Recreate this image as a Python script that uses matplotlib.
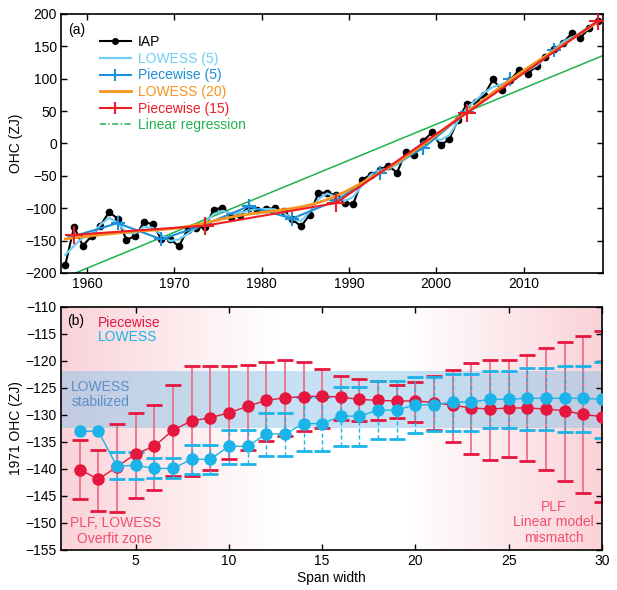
import numpy as np
import matplotlib
matplotlib.use("Agg")
import matplotlib.pyplot as plt
from matplotlib.lines import Line2D

plt.rcParams["font.family"] = ["Liberation Sans", "DejaVu Sans"]
plt.rcParams["font.size"] = 10

# ---- panel (a): IAP ocean heat content, ZJ ----
years = np.arange(1957, 2019)
iap = [-187, -129, -158, -143, -127, -106, -116, -149, -143, -122,
       -124, -148, -147, -159, -133, -130, -129, -102, -99, -113,
       -110, -99, -103, -101, -100, -105, -117, -128, -110, -76,
       -76, -80, -92, -93, -56, -48, -41, -34, -45, -13,
       -17, 4, 17, -3, 7, 37, 61, 64, 75, 99,
       82, 98, 114, 108, 120, 133, 146, 155, 170, 163,
       178, 189]

pw5_years = [1958, 1963, 1968, 1973, 1978, 1983, 1988, 1993, 1998, 2003, 2008, 2013, 2018]
pw5_vals = [-143, -123, -148, -125, -97, -116, -88, -46, -7, 49, 99, 144, 189]
pw15_years = [1958, 1973, 1988, 2003, 2018]
pw15_vals = [-141, -127, -92, 47, 189]

# ---- panel (b): 1971 OHC vs span width ----
spans = np.arange(2, 31)
pw_mid = [-140.1, -141.9, -139.6, -137.2, -135.8, -132.8, -131.1, -130.5, -129.6, -128.4,
          -127.3, -126.8, -126.6, -126.5, -126.7, -127.1, -127.3, -127.4, -127.4, -127.7,
          -128.2, -128.7, -128.9, -128.7, -128.7, -128.9, -129.2, -129.9, -130.3]
pw_hi = [-134.7, -136.4, -131.6, -129.6, -128.1, -124.4, -121.0, -121.0, -121.0, -120.7,
         -120.2, -119.9, -120.2, -121.4, -122.8, -123.4, -123.7, -124.5, -123.9, -122.8,
         -121.6, -120.4, -119.8, -119.8, -118.9, -117.6, -116.5, -115.3, -114.5]
pw_lo = [-145.6, -147.8, -148.0, -145.3, -143.8, -141.3, -141.3, -140.2, -138.2, -136.4,
         -134.8, -133.9, -133.0, -132.5, -131.0, -131.1, -131.0, -130.5, -131.3, -132.8,
         -135.0, -137.3, -138.4, -137.8, -138.5, -140.2, -142.2, -144.4, -146.2]

lw_mid = [-133.0, -133.0, -139.5, -139.3, -139.9, -139.9, -138.2, -138.2, -135.8, -135.8,
          -133.5, -133.5, -131.6, -131.6, -130.2, -130.2, -129.1, -129.1, -128.1, -128.1,
          -127.6, -127.6, -127.1, -127.1, -126.9, -126.9, -126.9, -126.9, -127.1]
lw_hi = [np.nan, np.nan, -136.9, -136.9, -138.0, -138.0, -135.5, -135.5, -132.7, -132.7,
         -129.6, -129.6, -126.7, -126.7, -124.9, -124.9, -123.7, -123.7, -123.0, -123.0,
         -122.5, -122.5, -121.9, -121.9, -121.3, -121.3, -120.9, -120.9, -120.2]
lw_lo = [np.nan, np.nan, -141.9, -141.9, -141.7, -141.6, -141.0, -141.0, -139.0, -139.0,
         -137.6, -137.6, -136.7, -136.7, -135.8, -135.8, -134.5, -134.5, -133.4, -133.0,
         -132.9, -132.9, -132.4, -132.4, -132.7, -132.7, -133.2, -133.2, -134.2]

band = (-132.4, -121.8)  # "LOWESS stabilized" range


def lowess(x, y, span):
    """Plain local-linear LOWESS with tricube weights over `span` neighbours."""
    x = np.asarray(x, float)
    y = np.asarray(y, float)
    out = np.empty_like(y)
    for i, xi in enumerate(x):
        d = np.abs(x - xi)
        idx = np.argsort(d)[:span]
        dmax = d[idx].max() * 1.0001
        w = (1 - (d[idx] / dmax) ** 3) ** 3
        A = np.vstack([np.ones(len(idx)), x[idx] - xi]).T
        W = np.diag(w)
        beta = np.linalg.lstsq(A.T @ W @ A, A.T @ W @ y[idx], rcond=None)[0]
        out[i] = beta[0]
    return out


C_IAP = "black"
C_LW5 = "#6fd0f6"
C_PW5 = "#1b8fd8"
C_LW20 = "#f7941d"
C_PW15 = "#ee1c25"
C_LIN = "#20b24b"

fig = plt.figure(figsize=(6.17, 5.90), dpi=100)
ax1 = fig.add_axes([61 / 617, 1 - 273 / 590, 542 / 617, 259 / 590])
ax2 = fig.add_axes([61 / 617, 1 - 550 / 590, 541 / 617, 243 / 590])

xt = years + 0.5
ax1.plot(xt, iap, color=C_IAP, lw=1.5, marker="o", ms=4.5, zorder=3)
ax1.plot(xt, lowess(xt, iap, 5), color=C_LW5, lw=1.6, zorder=4)
ax1.plot(np.array(pw5_years) + 0.5, pw5_vals, color=C_PW5, lw=1.5, marker="+",
         ms=10, mew=1.5, zorder=5)
ax1.plot(xt, lowess(xt, iap, 20), color=C_LW20, lw=2, zorder=6)
ax1.plot(np.array(pw15_years) + 0.5, pw15_vals, color=C_PW15, lw=1.5, marker="+",
         ms=13, mew=1.5, zorder=7)
p = np.polyfit(xt, iap, 1)
xl = np.array([1957, 2019.1])
ax1.plot(xl, np.polyval(p, xl), color=C_LIN, lw=1.1, zorder=2)

ax1.set_xlim(1957, 2019.1)
ax1.set_ylim(-200, 200)
ax1.set_xticks([1960, 1970, 1980, 1990, 2000, 2010])
ax1.set_yticks(np.arange(-200, 201, 50))
ax1.set_ylabel("OHC (ZJ)", labelpad=2)
ax1.text(0.013, 0.965, "(a)", transform=ax1.transAxes, va="top", ha="left")

handles = [
    Line2D([0], [0], color=C_IAP, lw=1.5, marker="o", ms=4),
    Line2D([0], [0], color=C_LW5, lw=1.6),
    Line2D([0], [0], color=C_PW5, lw=1.5, marker="+", ms=9, mew=1.5),
    Line2D([0], [0], color=C_LW20, lw=2),
    Line2D([0], [0], color=C_PW15, lw=1.5, marker="+", ms=9, mew=1.5),
    Line2D([0], [0], color=C_LIN, lw=1.1, ls=(0, (4, 1.5, 1, 1.5))),
]
labels = ["IAP", "LOWESS (5)", "Piecewise (5)", "LOWESS (20)", "Piecewise (15)",
          "Linear regression"]
leg = ax1.legend(handles, labels, loc="upper left", bbox_to_anchor=(0.062, 0.94),
                 frameon=False, fontsize=10, handlelength=2.2, labelspacing=0.19,
                 handletextpad=0.5, borderaxespad=0)
for txt, c in zip(leg.get_texts(), [C_IAP, C_LW5, C_PW5, C_LW20, C_PW15, C_LIN]):
    txt.set_color(c)

# ---- panel (b) ----
C_RED = "#e5173f"
C_BLUE = "#1cb4e8"

xs = np.linspace(1, 30, 600)
alpha = np.clip((12.5 - xs) / 11.5, 0, 1) + np.clip((xs - 19.5) / 10.5, 0, 1)
grad = np.zeros((2, len(xs), 4))
grad[..., 0] = 0.97
grad[..., 1] = 0.72
grad[..., 2] = 0.76
grad[..., 3] = alpha * 0.62
ax2.imshow(grad, extent=[1, 30, -155, -110], aspect="auto", zorder=0,
           interpolation="bilinear")
ax2.axhspan(band[0], band[1], color="#8cc4e8", alpha=0.5, lw=0, zorder=1)

eb_r = ax2.errorbar(spans, pw_mid, yerr=[np.array(pw_mid) - np.array(pw_lo),
                                         np.array(pw_hi) - np.array(pw_mid)],
                    fmt="none", ecolor="#f0667f", elinewidth=1.2, capsize=6,
                    capthick=2, zorder=2)
for cap in eb_r[1]:
    cap.set_markeredgecolor(C_RED)
eb_b = ax2.errorbar(spans, lw_mid, yerr=[np.array(lw_mid) - np.array(lw_lo),
                                         np.array(lw_hi) - np.array(lw_mid)],
                    fmt="none", ecolor=C_BLUE, elinewidth=1, capsize=6, capthick=2,
                    zorder=2)
eb_b[2][0].set_linestyle((0, (3, 2)))

ax2.plot(spans, lw_mid, color=C_BLUE, lw=1, marker="o", ms=8, zorder=4)
ax2.plot(spans, pw_mid, color=C_RED, lw=1, marker="o", ms=8, zorder=3)

ax2.set_xlim(1, 30)
ax2.set_ylim(-155, -110)
ax2.set_xticks([5, 10, 15, 20, 25, 30])
ax2.set_yticks(np.arange(-155, -109, 5))
ax2.set_xlabel("Span width", labelpad=2)
ax2.set_ylabel("1971 OHC (ZJ)", labelpad=2)

ax2.text(1.35, -112.6, "(b)", ha="left", va="center")
ax2.text(3.0, -112.9, "Piecewise", color=C_RED, ha="left", va="center")
ax2.text(3.0, -115.6, "LOWESS", color=C_BLUE, ha="left", va="center")
ax2.text(1.55, -126.2, "LOWESS\nstabilized", color="#5b8fc9", ha="left", va="center",
         linespacing=1.15)
ax2.text(3.9, -151.5, "PLF, LOWESS\nOverfit zone", color="#f0506a", ha="center",
         va="center", linespacing=1.15)
ax2.text(27.4, -149.9, "PLF\nLinear model\nmismatch", color="#f0506a", ha="center",
         va="center", linespacing=1.15)

for ax in (ax1, ax2):
    ax.tick_params(direction="in", top=True, right=True, length=4, width=1,
                   labelsize=10, pad=3)
    for s in ax.spines.values():
        s.set_linewidth(1.2)

fig.savefig("out.png", dpi=100)
